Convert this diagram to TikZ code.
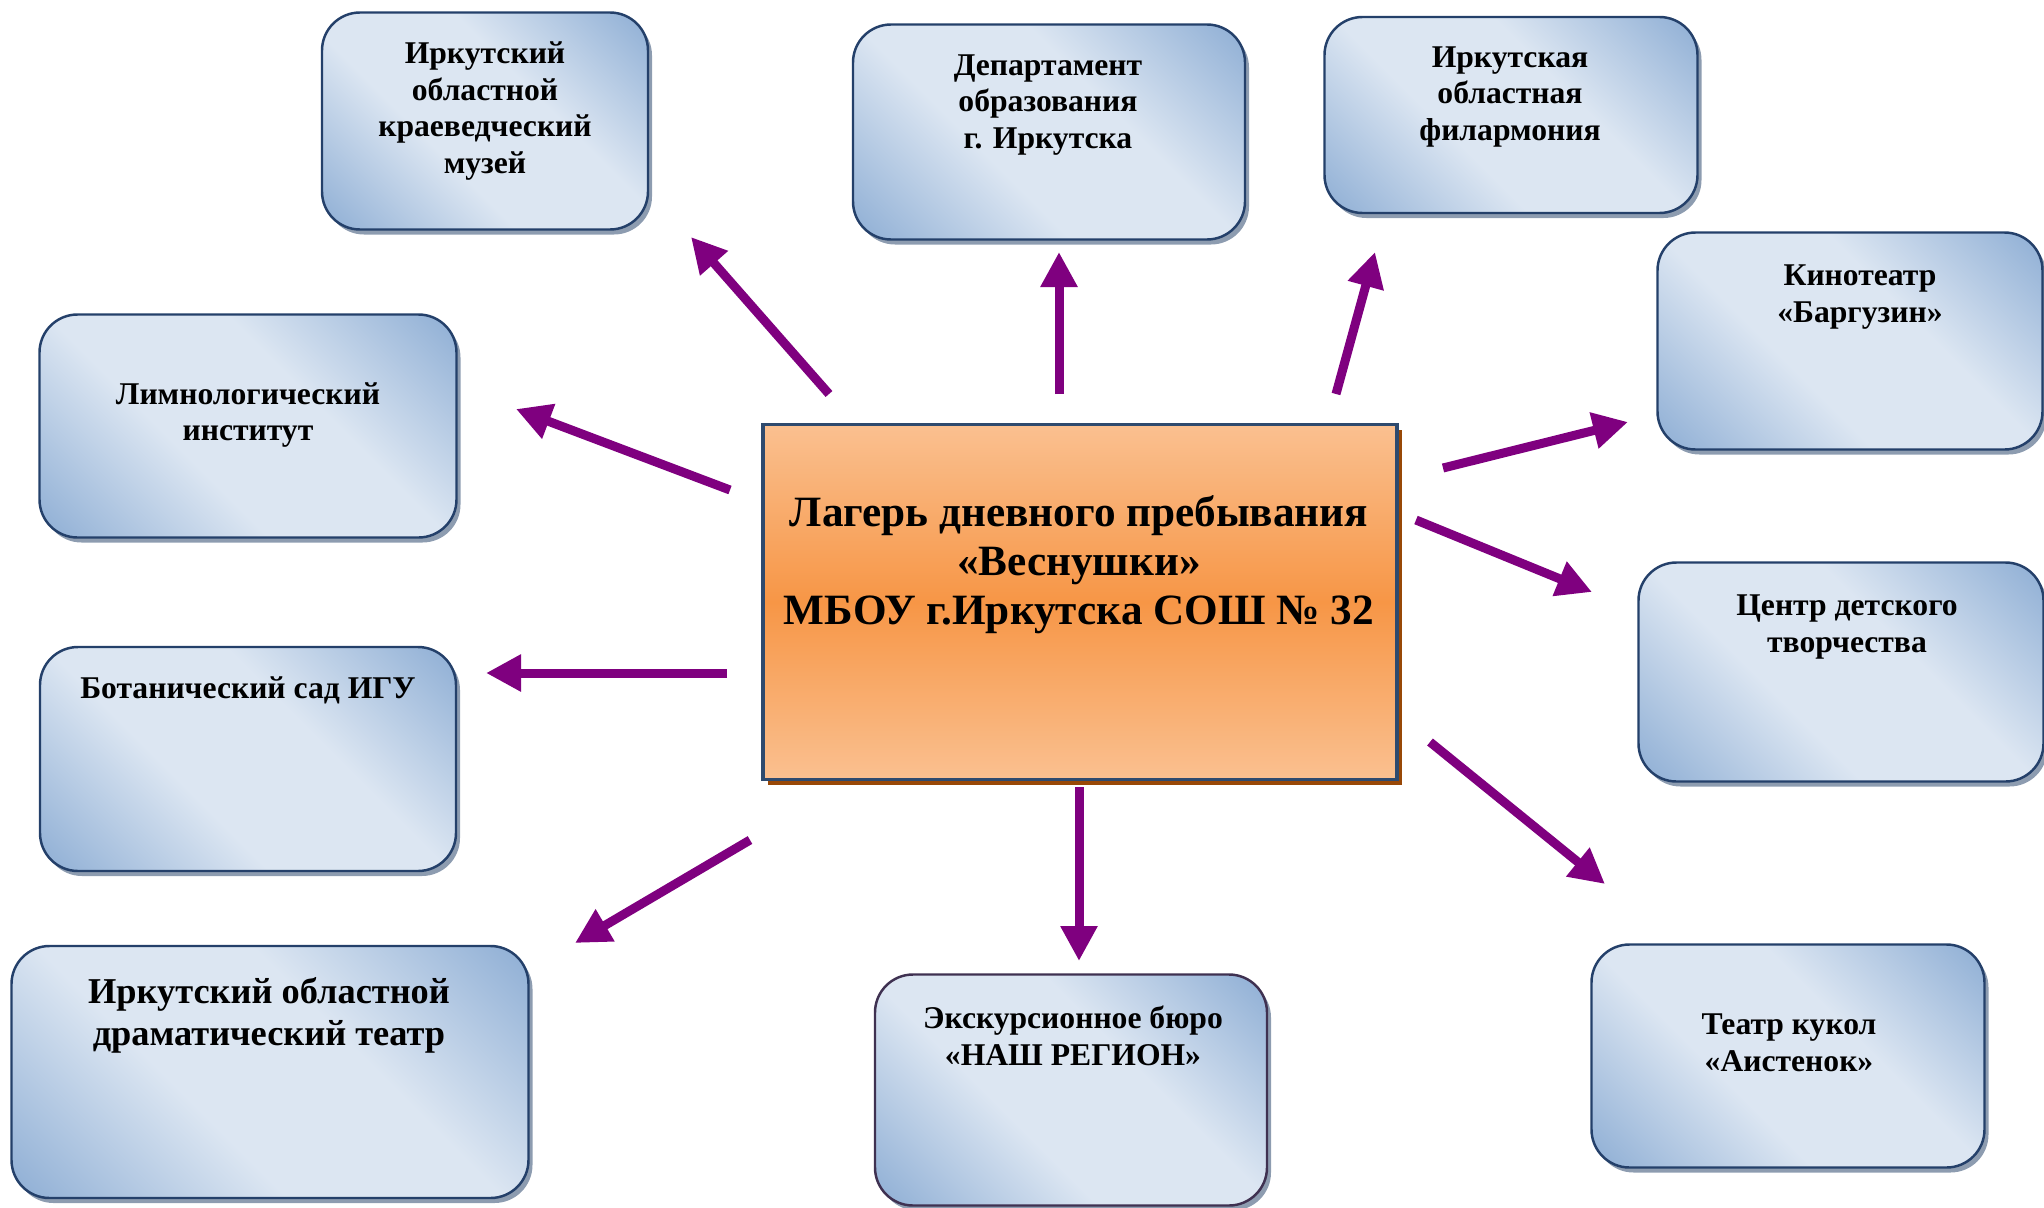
\documentclass[tikz,border=0pt]{standalone}
\usepackage{fontspec}
\setmainfont{Liberation Serif}
\usetikzlibrary{arrows.meta,shadows}

\definecolor{bluelight}{HTML}{DCE6F2}
\definecolor{bluedark}{HTML}{95B3D7}
\definecolor{boxline}{HTML}{24406A}
\definecolor{excline}{HTML}{3F3151}
\definecolor{orlight}{HTML}{FAC090}
\definecolor{ormid}{HTML}{F79646}
\definecolor{campline}{HTML}{2E4A6E}
\definecolor{arrowpurple}{HTML}{7F007F}
\definecolor{shadowgray}{HTML}{8D9CB0}
\definecolor{shadowbrown}{HTML}{984807}

\pgfdeclarehorizontalshading{boxshade}{100bp}{color(0bp)=(bluedark); color(17bp)=(bluedark); color(40bp)=(bluelight); color(60bp)=(bluelight); color(83bp)=(bluedark); color(100bp)=(bluedark)}

\begin{document}
\begin{tikzpicture}[x=0.1mm, y=-0.1mm,
    orgbox/.style={draw=boxline, line width=0.7pt, rounded corners=3.8mm,
        shading=boxshade, shading angle=45, inner sep=0pt,
        drop shadow={shadow xshift=0.4mm, shadow yshift=-0.5mm, fill=shadowgray, opacity=1}},
    orgtext/.style={font=\bfseries\fontsize{9}{10.4}\selectfont, align=center, inner sep=0pt},
    campbox/.style={draw=campline, line width=0.9pt, top color=orlight, bottom color=orlight,
        middle color=ormid, inner sep=0pt,
        drop shadow={shadow xshift=0.5mm, shadow yshift=-0.5mm, fill=shadowbrown, opacity=1}},
    camptext/.style={font=\bfseries\fontsize{12.3}{13.9}\selectfont, align=center, inner sep=0pt},
    link/.style={arrowpurple, line width=0.9mm, -{Triangle[length=3.5mm, width=3.5mm]}}]

    \useasboundingbox (0,0) rectangle (2044,1208);

    % Central box
    \node[campbox, minimum width=63.4mm, minimum height=35.5mm] (camp) at (1080,602) {};
    \node[camptext] (t-camp) at (1079,565) {Лагерь дневного пребывания\\«Веснушки»\\МБОУ г.Иркутска СОШ №~32};

    % Partners, top row
    \node[orgbox, minimum width=32.6mm, minimum height=21.7mm] (museum) at (485,121) {};
    \node[orgtext] (t-museum) at (485,111) {Иркутский\\областной\\краеведческий\\музей};

    \node[orgbox, minimum width=39.2mm, minimum height=21.5mm] (dept) at (1049,132) {};
    \node[orgtext] (t-dept) at (1048,105) {Департамент\\образования\\г. Иркутска};

    \node[orgbox, minimum width=37.3mm, minimum height=19.6mm] (phil) at (1511,115) {};
    \node[orgtext] (t-phil) at (1510,97) {Иркутская\\областная\\филармония};

    % Partners, right side
    \node[orgbox, minimum width=38.5mm, minimum height=21.7mm] (kino) at (1850,341) {};
    \node[orgtext] (t-kino) at (1860,297) {Кинотеатр\\«Баргузин»};

    \node[orgbox, minimum width=40.5mm, minimum height=21.9mm] (centr) at (1841,672) {};
    \node[orgtext] (t-centr) at (1847,627) {Центр детского\\творчества};

    \node[orgbox, minimum width=39.3mm, minimum height=22.3mm] (puppet) at (1788,1056) {};
    \node[orgtext] (t-puppet) at (1789,1043) {Театр кукол\\«Аистенок»};

    % Partners, bottom and left side
    \node[orgbox, draw=excline, minimum width=39.2mm, minimum height=23.1mm] (excurs) at (1071,1090) {};
    \node[orgtext] (t-excurs) at (1073,1036) {Экскурсионное бюро\\«НАШ РЕГИОН»};

    \node[orgbox, minimum width=51.7mm, minimum height=25.2mm] (drama) at (270,1072) {};
    \node[orgtext, font=\bfseries\fontsize{10.35}{11.9}\selectfont] (t-drama) at (269,1015) {Иркутский областной\\драматический театр};

    \node[orgbox, minimum width=41.6mm, minimum height=22.4mm] (botan) at (248,759) {};
    \node[orgtext] (t-botan) at (248,690) {Ботанический сад ИГУ};

    \node[orgbox, minimum width=41.7mm, minimum height=22.3mm] (limn) at (248,426) {};
    \node[orgtext] (t-limn) at (248,415) {Лимнологический\\институт};

    % Arrow ends
    \coordinate (a1) at (829,394);  \coordinate (b1) at (691,237);
    \coordinate (a2) at (1059,394); \coordinate (b2) at (1059,252);
    \coordinate (a3) at (1336,394); \coordinate (b3) at (1375,252);
    \coordinate (a4) at (1443,468); \coordinate (b4) at (1628,422);
    \coordinate (a5) at (1416,520); \coordinate (b5) at (1592,592);
    \coordinate (a6) at (1430,742); \coordinate (b6) at (1605,884);
    \coordinate (a7) at (1079,787); \coordinate (b7) at (1079,961);
    \coordinate (a8) at (750,840);  \coordinate (b8) at (575,943);
    \coordinate (a9) at (727,673);  \coordinate (b9) at (486,673);
    \coordinate (a10) at (730,490); \coordinate (b10) at (516,409);

    % Arrows
    \foreach \i in {1,...,10}
        \draw[link] (a\i) -- (b\i);
\end{tikzpicture}
\end{document}
